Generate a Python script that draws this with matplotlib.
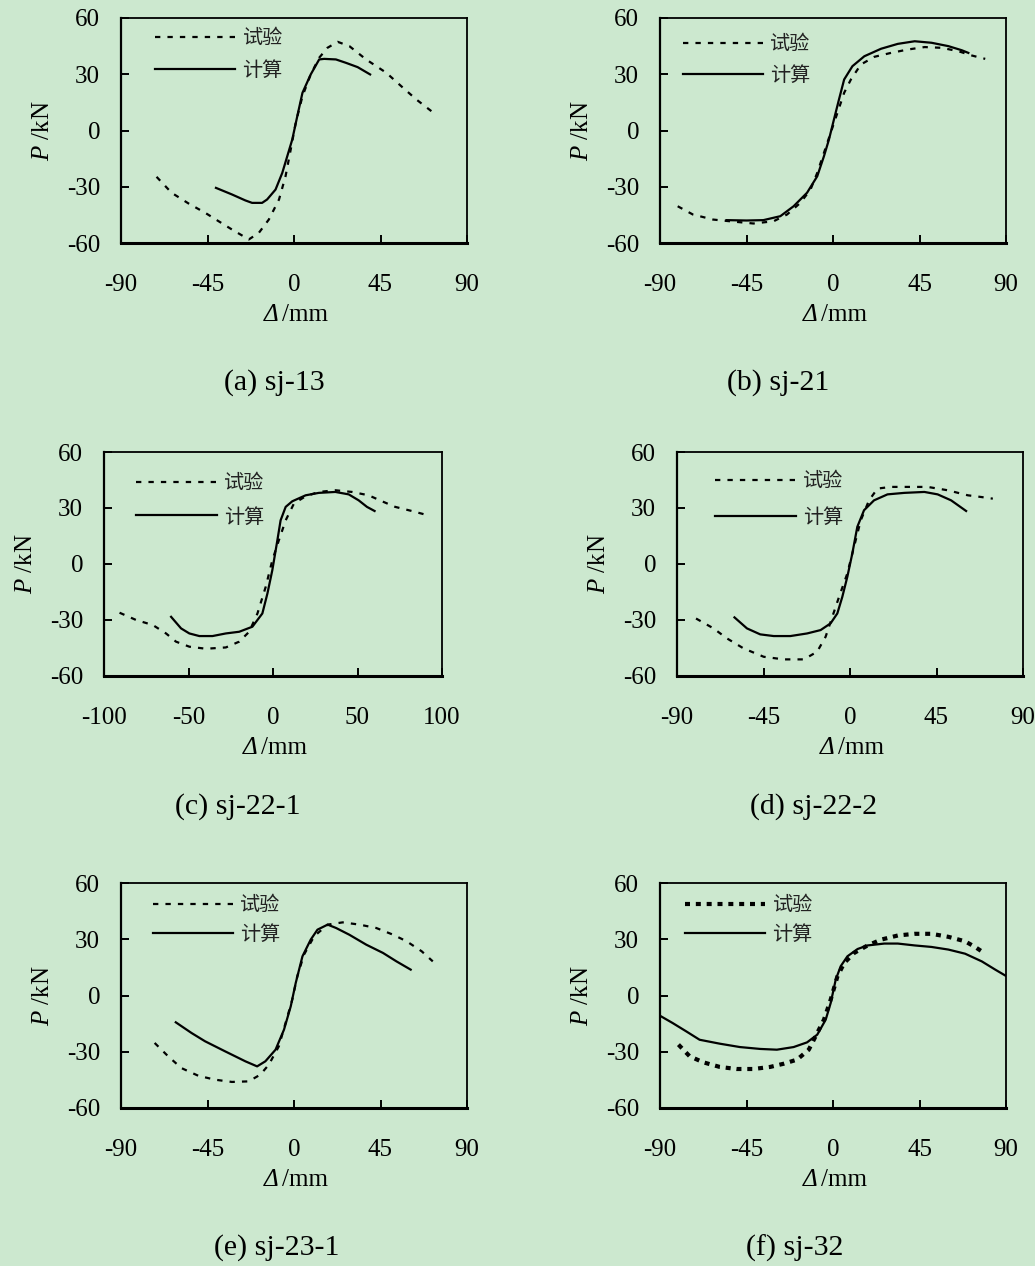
import matplotlib
matplotlib.use('Agg')
import matplotlib.pyplot as plt
from matplotlib.font_manager import FontProperties
from matplotlib.lines import Line2D

plt.rcParams['font.family'] = ['Liberation Serif', 'DejaVu Serif']
plt.rcParams['mathtext.fontset'] = 'custom'
plt.rcParams['mathtext.rm'] = 'Liberation Serif'
plt.rcParams['mathtext.it'] = 'Liberation Serif:italic'
plt.rcParams['axes.unicode_minus'] = False

BG = '#CCE8CF'

# ---- load-displacement skeleton curves (displacement in mm, load in kN) ----
# (a) sj-13
sj13_calc_d = [-40.6, -32.3, -25.3, -21.8, -16.6, -14.0, -9.6, -6.1, -3.5, -0.9, 1.7, 4.4, 8.7, 13.1, 15.7, 21.8, 27.0, 33.1, 39.6]
sj13_calc_p = [-30.6, -34.1, -37.3, -38.6, -38.6, -36.8, -31.5, -22.6, -13.7, -4.8, 7.6, 20.1, 29.9, 37.9, 38.2, 37.9, 36.1, 33.8, 29.9]
sj13_test_d = [-71.5, -63.7, -54.9, -46.2, -39.2, -32.3, -23.5, -18.3, -13.1, -7.8, -4.4, -1.7, 0.9, 4.4, 8.7, 13.1, 17.4, 22.7, 28.8, 37.5, 48.0, 56.7, 63.7, 71.5]
sj13_test_p = [-24.7, -33.2, -38.9, -43.9, -48.4, -52.8, -58.1, -54.6, -47.5, -36.8, -24.4, -10.1, 4.1, 18.3, 29.9, 38.8, 44.1, 47.3, 45.0, 37.9, 30.8, 22.8, 16.5, 10.3]

# (b) sj-21
sj21_calc_d = [-55.4, -45.0, -36.2, -27.4, -20.5, -13.5, -8.2, -4.7, -2.1, 0.5, 3.1, 5.8, 10.1, 16.3, 25.0, 33.7, 42.5, 51.2, 60.0, 67.0, 70.4]
sj21_calc_p = [-47.8, -48.0, -47.8, -45.7, -40.4, -33.2, -24.4, -13.7, -4.8, 5.9, 16.5, 27.2, 34.3, 39.6, 43.6, 46.2, 47.6, 46.8, 45.0, 42.8, 41.4]
sj21_test_d = [-80.8, -72.9, -62.4, -53.7, -41.4, -30.9, -23.9, -17.0, -11.7, -8.2, -4.7, -1.2, 2.3, 5.8, 9.3, 14.5, 21.5, 30.2, 39.0, 47.7, 56.5, 65.2, 72.2, 79.2]
sj21_test_p = [-40.4, -44.8, -47.5, -48.4, -49.6, -48.4, -44.8, -38.6, -31.5, -22.6, -11.9, -1.2, 9.4, 20.1, 27.2, 35.2, 39.3, 41.4, 43.2, 44.5, 44.1, 42.3, 40.0, 38.2]

# (c) sj-22-1
sj221_calc_d = [-60.3, -54.4, -49.5, -43.6, -35.8, -27.9, -20.0, -12.2, -6.3, -3.3, -0.4, 2.6, 4.5, 7.5, 11.4, 19.3, 27.1, 36.9, 44.8, 50.7, 55.6, 60.1]
sj221_calc_p = [-28.3, -34.5, -37.2, -38.6, -38.6, -37.2, -36.3, -33.6, -26.5, -15.8, -3.3, 12.8, 23.4, 30.6, 33.6, 36.8, 38.1, 38.6, 37.3, 34.1, 30.6, 28.4]
sj221_test_d = [-90.8, -81.0, -71.1, -63.3, -57.4, -49.5, -39.7, -27.9, -20.0, -14.1, -9.2, -4.3, -0.4, 3.5, 7.5, 12.4, 19.3, 27.1, 36.9, 46.8, 56.6, 64.5, 72.3, 82.1, 90.0]
sj221_test_p = [-26.1, -30.0, -32.7, -37.2, -41.6, -44.3, -45.4, -44.7, -41.6, -36.3, -26.5, -12.2, 2.0, 12.8, 23.4, 32.4, 36.3, 38.6, 39.5, 38.6, 36.8, 33.6, 30.6, 28.4, 26.5]

# (d) sj-22-2
sj222_calc_d = [-60.1, -53.6, -46.7, -39.7, -31.0, -22.3, -15.3, -10.1, -6.6, -4.0, -1.4, 1.2, 3.8, 7.3, 12.5, 19.5, 28.2, 38.7, 45.6, 52.6, 60.4]
sj222_calc_p = [-28.6, -34.5, -37.7, -38.6, -38.6, -37.2, -35.4, -31.8, -26.5, -17.6, -6.9, 5.6, 19.9, 28.8, 34.1, 37.3, 38.1, 38.6, 37.3, 34.1, 28.4]
sj222_test_d = [-80.1, -71.0, -64.1, -55.4, -44.9, -34.5, -24.0, -17.1, -12.7, -9.2, -5.7, -1.4, 1.2, 5.6, 9.9, 14.3, 21.2, 29.9, 40.4, 50.8, 61.3, 68.2, 74.3]
sj222_test_p = [-29.2, -34.5, -39.8, -45.2, -49.7, -51.1, -51.1, -47.0, -39.0, -28.3, -17.6, -5.1, 5.6, 23.4, 34.1, 40.4, 41.3, 41.3, 41.3, 39.5, 36.8, 35.9, 35.0]

# (e) sj-23-1
sj231_calc_d = [-61.5, -53.3, -46.3, -35.8, -25.3, -19.2, -14.9, -9.6, -5.2, -1.7, 0.9, 4.4, 8.7, 12.2, 17.5, 21.9, 28.8, 37.6, 46.3, 53.3, 60.7]
sj231_calc_p = [-14.3, -20.0, -24.4, -29.8, -35.1, -37.8, -35.1, -28.9, -18.2, -5.8, 6.7, 20.9, 29.8, 35.1, 37.8, 36.0, 32.4, 27.1, 22.7, 18.2, 13.8]
sj231_test_d = [-72.5, -65.5, -58.6, -49.8, -41.1, -32.3, -23.6, -17.5, -13.1, -7.9, -4.4, -0.9, 1.7, 5.2, 10.5, 17.5, 25.3, 34.1, 42.8, 51.6, 58.6, 66.4, 72.2]
sj231_test_p = [-25.3, -32.4, -38.7, -42.8, -44.9, -46.1, -45.8, -42.2, -36.9, -27.1, -14.7, -2.2, 10.2, 21.8, 31.6, 37.8, 39.0, 37.8, 36.0, 32.4, 28.9, 23.6, 18.2]

# (f) sj-32
sj32_calc_d = [-90.0, -83.4, -76.4, -69.4, -58.9, -48.4, -37.9, -29.2, -20.5, -13.5, -8.2, -3.8, -1.2, 1.4, 4.0, 7.5, 12.8, 18.0, 26.7, 33.7, 42.5, 51.2, 60.0, 68.7, 77.4, 84.4, 89.7]
sj32_calc_p = [-10.8, -14.7, -19.1, -23.6, -25.7, -27.5, -28.5, -28.9, -27.5, -25.0, -20.9, -12.9, -4.0, 8.4, 15.6, 20.9, 24.8, 26.7, 27.7, 27.7, 26.7, 25.9, 24.5, 22.3, 18.2, 13.8, 10.6]
sj32_test_d = [-80.4, -74.6, -67.6, -58.9, -50.2, -41.4, -32.7, -25.7, -18.7, -12.6, -8.2, -4.7, -1.2, 2.3, 5.8, 11.0, 18.0, 25.0, 33.7, 42.5, 51.2, 60.0, 68.7, 73.9, 79.2]
sj32_test_p = [-26.2, -32.4, -35.6, -38.1, -39.2, -39.2, -38.1, -36.4, -34.2, -28.9, -20.0, -12.9, -2.2, 10.2, 17.3, 22.7, 26.7, 29.8, 32.0, 32.9, 32.9, 31.3, 28.9, 25.9, 22.3]

captions = ['(a) sj-13', '(b) sj-21', '(c) sj-22-1', '(d) sj-22-2', '(e) sj-23-1', '(f) sj-32']
legend_labels = ['试验', '计算']
y_ticks = [-60, -30, 0, 30, 60]
x_ticks_90 = [-90, -45, 0, 45, 90]
x_ticks_100 = [-100, -50, 0, 50, 100]

W, H = 1035, 1266

panels = [
    dict(test=(sj13_test_d, sj13_test_p), calc=(sj13_calc_d, sj13_calc_p),
         box=(121, 18, 346, 225), xt=x_ticks_90, leg=(0.098, 0.956), sp=0.55, cap=(274, 383), bold=False),
    dict(test=(sj21_test_d, sj21_test_p), calc=(sj21_calc_d, sj21_calc_p),
         box=(660, 18, 346, 225), xt=x_ticks_90, leg=(0.066, 0.93), sp=0.5, cap=(778, 383), bold=False),
    dict(test=(sj221_test_d, sj221_test_p), calc=(sj221_calc_d, sj221_calc_p),
         box=(104, 452, 338, 224), xt=x_ticks_100, leg=(0.095, 0.906), sp=0.62, cap=(238, 807), bold=False),
    dict(test=(sj222_test_d, sj222_test_p), calc=(sj222_calc_d, sj222_calc_p),
         box=(677, 452, 346, 224), xt=x_ticks_90, leg=(0.11, 0.916), sp=0.75, cap=(814, 807), bold=False),
    dict(test=(sj231_test_d, sj231_test_p), calc=(sj231_calc_d, sj231_calc_p),
         box=(121, 883, 346, 225), xt=x_ticks_90, leg=(0.092, 0.948), sp=0.42, cap=(277, 1248), bold=False),
    dict(test=(sj32_test_d, sj32_test_p), calc=(sj32_calc_d, sj32_calc_p),
         box=(660, 883, 346, 225), xt=x_ticks_90, leg=(0.072, 0.948), sp=0.42, cap=(795, 1248), bold=True),
]

fig = plt.figure(figsize=(W / 100, H / 100), dpi=100, facecolor=BG)
cjk = FontProperties(family=['Noto Sans CJK SC', 'DejaVu Sans'], size=14.5)

for p, cap in zip(panels, captions):
    l, t, w, h = p['box']
    ax = fig.add_axes([l / W, 1 - (t + h) / H, w / W, h / H])
    ax.set_facecolor(BG)

    if p['bold']:
        test_kw = dict(lw=3.0, dashes=(1.2, 1.4))
    else:
        test_kw = dict(lw=1.6, dashes=(2.4, 3.2))
    ax.plot(*p['test'], color='black', solid_capstyle='butt', **test_kw)
    ax.plot(*p['calc'], color='black', lw=1.6)

    xt = p['xt']
    ax.set_xlim(xt[0], xt[-1])
    ax.set_ylim(-60, 60)
    ax.set_xticks(xt)
    ax.set_yticks(y_ticks)
    ax.tick_params(axis='x', direction='in', length=6, width=1.4, pad=22, labelsize=18)
    ax.tick_params(axis='y', direction='in', length=6, width=1.4, pad=15, labelsize=18)
    for side, lw in (('bottom', 2.2), ('left', 1.6), ('top', 1.3), ('right', 1.3)):
        ax.spines[side].set_linewidth(lw)
        ax.spines[side].set_color('black')

    ax.set_ylabel('$P$ /kN', fontsize=18, labelpad=9)
    # x label: italic Delta followed by upright unit
    ax.annotate('Δ', xy=(0.5, 0), xycoords='axes fraction', xytext=(-16, -78),
                textcoords='offset pixels', ha='right', va='baseline',
                fontsize=18, style='italic')
    ax.annotate('/mm', xy=(0.5, 0), xycoords='axes fraction', xytext=(-12, -78),
                textcoords='offset pixels', ha='left', va='baseline', fontsize=18)

    handles = [Line2D([], [], color='black', **test_kw),
               Line2D([], [], color='black', lw=1.6)]
    ax.legend(handles, legend_labels, loc='upper left', bbox_to_anchor=p['leg'],
              frameon=False, prop=cjk, handlelength=4.0, handletextpad=0.35,
              labelspacing=p['sp'], borderpad=0, borderaxespad=0, labelcolor='#222222')

    cx, cy = p['cap']
    fig.text(cx / W, 1 - cy / H, cap, ha='center', va='center', fontsize=21.5)

fig.savefig('out.png', dpi=100, facecolor=BG)
